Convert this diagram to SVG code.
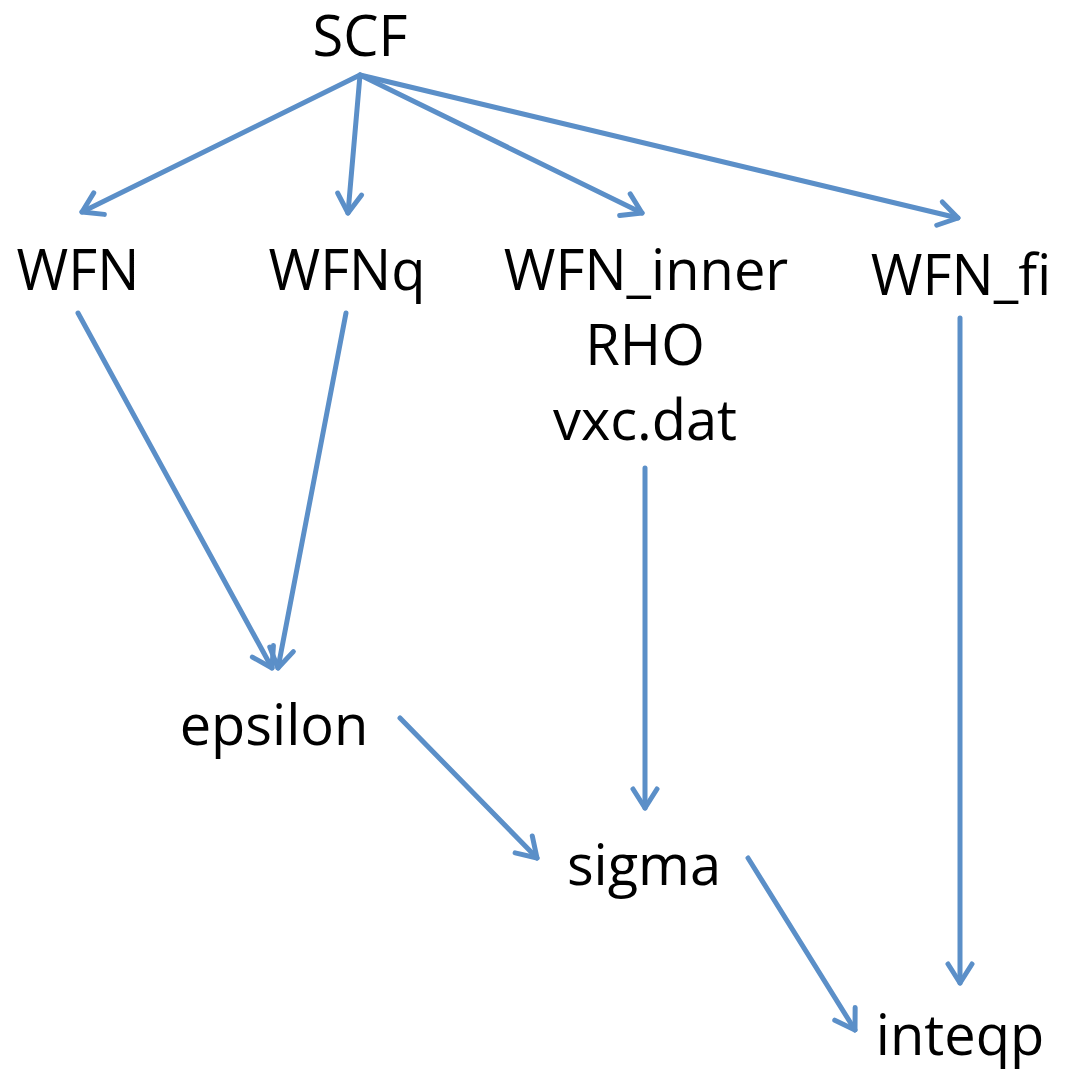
<svg xmlns="http://www.w3.org/2000/svg" width="1067" height="1073" viewBox="0 0 1067 1073">
<style>
text{font-family:"Open Sans","Liberation Sans",sans-serif;font-size:56px;fill:#000;text-anchor:middle}
.c{stroke:#5b8fc8;stroke-width:5;fill:none;stroke-linecap:round;marker-end:url(#a)}
</style>
<defs>
<marker id="a" markerUnits="userSpaceOnUse" viewBox="-30 -18 36 36" markerWidth="36" markerHeight="36" refX="0" refY="0" orient="auto">
<path d="M-19,-12 L0,0 L-19,12" fill="none" stroke="#5b8fc8" stroke-width="5" stroke-linecap="round" stroke-linejoin="round"/>
</marker>
</defs>
<rect width="1067" height="1073" fill="#fff"/>
<g id="connectors">
<line class="c" x1="360" y1="75" x2="82" y2="212"/>
<line class="c" x1="360" y1="75" x2="348" y2="213"/>
<line class="c" x1="360" y1="75" x2="642" y2="213"/>
<line class="c" x1="360" y1="75" x2="958" y2="218"/>
<line class="c" x1="78" y1="313" x2="272" y2="668"/>
<line class="c" x1="346" y1="313" x2="278" y2="668"/>
<line class="c" x1="645" y1="468" x2="645" y2="808"/>
<line class="c" x1="960" y1="318" x2="960" y2="983"/>
<line class="c" x1="400" y1="718" x2="537" y2="858"/>
<line class="c" x1="748" y1="858" x2="855" y2="1030"/>
</g>
<g id="SCF"><text x="360" y="56">SCF</text></g>
<g id="WFN"><text x="78" y="290">WFN</text></g>
<g id="WFNq"><text x="347" y="290">WFNq</text></g>
<g id="WFN_inner"><text x="646" y="290">WFN_inner</text><text x="645" y="365">RHO</text><text x="645" y="440">vxc.dat</text></g>
<g id="WFN_fi"><text x="961" y="295">WFN_fi</text></g>
<g id="epsilon"><text x="274" y="745">epsilon</text></g>
<g id="sigma"><text x="644" y="885">sigma</text></g>
<g id="inteqp"><text x="960" y="1055">inteqp</text></g>
</svg>
